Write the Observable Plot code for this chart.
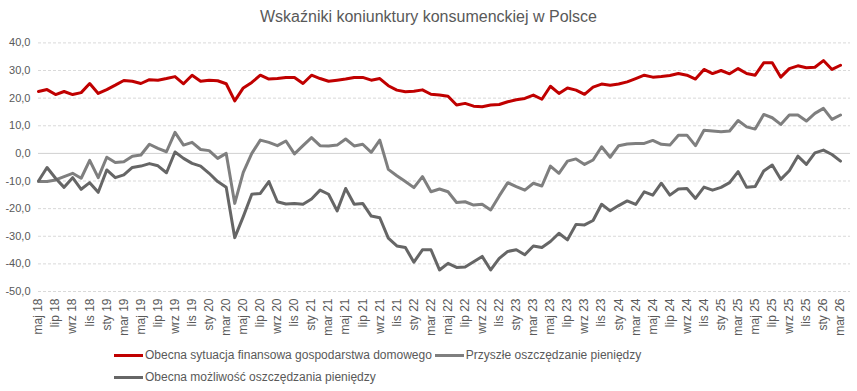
<!DOCTYPE html>
<html><head><meta charset="utf-8">
<script src="https://cdn.jsdelivr.net/npm/d3@7"></script>
<script src="https://cdn.jsdelivr.net/npm/@observablehq/plot@0.6"></script>
<style>
body{margin:0;background:#fff;font-family:"Liberation Sans",Arial,sans-serif;color:#595959}
#wrap{width:857px;height:391px;position:relative;overflow:hidden;background:#fff}
#title{height:34px;line-height:34px;text-align:center;font-size:16px}
#chart svg{display:block}
#legend{position:absolute;left:114px;top:344px;font-size:12px}
.row{display:flex;height:22px;align-items:center}
.item{display:flex;align-items:center;margin-right:3px;white-space:nowrap}
.sw{width:29px;height:3px;margin-right:2px}
</style></head><body>
<div id="wrap"><div id="title">Wskaźniki koniunktury konsumenckiej w Polsce</div><div id="chart"></div><div id="legend"></div></div>
<script>
const monthNames = ["sty","lut","mar","kwi","maj","cze","lip","sie","wrz","paź","lis","gru"];
const startMonth = 4, startYear = 18, nMonths = 95;
const labels = [];
for (let i = 0; i < nMonths; i++) {
  const m = startMonth + i;
  labels.push(monthNames[m % 12] + " " + (startYear + Math.floor(m / 12)));
}
const tickLabels = labels.filter((d, i) => i % 2 === 0);
const yTicks = [-50,-40,-30,-20,-10,0,10,20,30,40];

const sytuacja = [22.4,23.1,21.3,22.4,21.3,22.0,25.3,21.7,23.1,24.7,26.4,26.1,25.3,26.7,26.5,27.1,27.8,25.2,28.3,26.1,26.5,26.3,25.2,19.0,
  23.7,25.7,28.3,26.9,27.1,27.5,27.5,25.3,28.3,27.1,26.1,26.5,26.9,27.5,27.5,26.5,27.1,24.5,22.9,22.3,22.5,23.0,21.4,21.1,
  20.7,17.5,18.1,17.1,16.9,17.5,17.7,18.7,19.4,19.9,21.1,19.6,24.3,21.7,23.7,22.9,21.4,24.0,25.1,24.7,25.1,25.9,27.1,
  28.3,27.6,27.8,28.2,28.9,28.3,26.9,30.4,28.9,30.0,28.8,30.7,28.9,28.3,32.8,32.8,27.6,30.7,31.7,31.0,31.2,33.6,30.4,31.9];
const przyszle = [-10.2,-10.2,-9.6,-8.4,-7.2,-9.0,-2.5,-8.8,-1.4,-3.3,-3.0,-1.0,-0.6,3.3,1.8,0.6,7.6,3.0,4.0,1.4,1.0,-1.8,0.0,-18.1,
  -6.9,0.0,4.8,4.0,2.8,4.5,-0.2,2.8,5.7,2.8,2.7,3.0,5.2,2.7,3.3,0.4,4.8,-5.8,-8.1,-10.2,-12.4,-8.4,-13.9,-12.9,
  -13.9,-17.8,-17.5,-18.7,-18.4,-20.5,-15.4,-10.6,-12.0,-13.3,-10.8,-11.8,-4.6,-7.2,-2.8,-2.0,-4.0,-2.4,2.4,-1.4,2.8,3.4,3.6,
  3.6,4.7,3.3,3.0,6.6,6.6,2.8,8.4,8.1,7.8,8.1,11.9,9.6,8.8,14.1,12.9,10.5,13.9,13.9,11.7,14.5,16.3,12.3,13.9];
const mozliwosc = [-10.0,-5.1,-9.0,-12.3,-8.8,-13.0,-10.6,-14.1,-6.0,-8.8,-7.8,-5.1,-4.6,-3.7,-4.5,-7.0,0.5,-1.8,-3.6,-4.6,-7.2,-10.2,-12.3,-30.5,
  -22.9,-14.8,-14.5,-10.2,-17.5,-18.3,-18.1,-18.4,-16.5,-13.3,-14.8,-20.8,-12.7,-18.4,-18.1,-22.7,-23.3,-30.7,-33.5,-34.1,-39.4,-34.9,-34.9,-42.2,
  -39.8,-41.3,-41.1,-39.2,-37.3,-42.2,-38.0,-35.5,-34.9,-36.7,-33.5,-34.1,-31.9,-28.9,-31.3,-25.7,-25.9,-24.3,-18.4,-20.8,-18.9,-17.2,-18.5,
  -13.9,-15.1,-10.8,-15.1,-12.9,-12.7,-16.3,-12.2,-13.3,-12.3,-10.6,-6.6,-12.3,-12.0,-6.4,-4.2,-9.4,-6.3,-1.0,-4.0,0.2,1.2,-0.4,-2.8];

const seriesNames = ["Obecna sytuacja finansowa gospodarstwa domowego","Przyszłe oszczędzanie pieniędzy","Obecna możliwość oszczędzania pieniędzy"];
const seriesColors = ["#c00000","#7f7f7f","#666666"];
const seriesValues = [sytuacja, przyszle, mozliwosc];

const rows = (vals) => vals.map((v, i) => ({label: labels[i], value: v}));
const fmt = d => d.toFixed(1).replace(".", ",");

const chart = Plot.plot({
  width: 857, height: 310,
  marginTop: 8.4, marginBottom: 53, marginLeft: 38, marginRight: 7,
  style: {fontFamily: "'Liberation Sans', Arial, sans-serif", color: "#595959", background: "#fff", overflow: "visible"},
  x: {type: "point", domain: labels, range: [38, 840], padding: 0},
  y: {domain: [-50, 40]},
  marks: [
    Plot.gridY(yTicks.filter(d => d !== 0), {stroke: "#d9d9d9", strokeOpacity: 1, strokeDasharray: "3,2"}),
    Plot.ruleY([0], {stroke: "#d0d0d0", strokeWidth: 1}),
    Plot.axisY(yTicks, {tickSize: 0, tickPadding: 8, tickFormat: fmt, fontSize: 11, fill: "#595959", label: null}),
    Plot.axisX(tickLabels, {tickSize: 0, tickPadding: 7, tickRotate: -90, fontSize: 12, fill: "#595959", label: null}),
    ...seriesValues.map((vals, k) => Plot.lineY(rows(vals), {x: "label", y: "value", stroke: seriesColors[k], strokeWidth: 3, strokeLinejoin: "round", strokeLinecap: "round"}))
  ]
});
document.getElementById("chart").appendChild(chart);

const legend = document.getElementById("legend");
const layout = [[0, 1], [2]];
layout.forEach(r => {
  const row = document.createElement("div");
  row.className = "row";
  r.forEach(k => {
    const it = document.createElement("div");
    it.className = "item";
    const sw = document.createElement("div");
    sw.className = "sw";
    sw.style.background = seriesColors[k];
    const tx = document.createElement("span");
    tx.textContent = seriesNames[k];
    it.appendChild(sw); it.appendChild(tx);
    row.appendChild(it);
  });
  legend.appendChild(row);
});
</script>
</body></html>
